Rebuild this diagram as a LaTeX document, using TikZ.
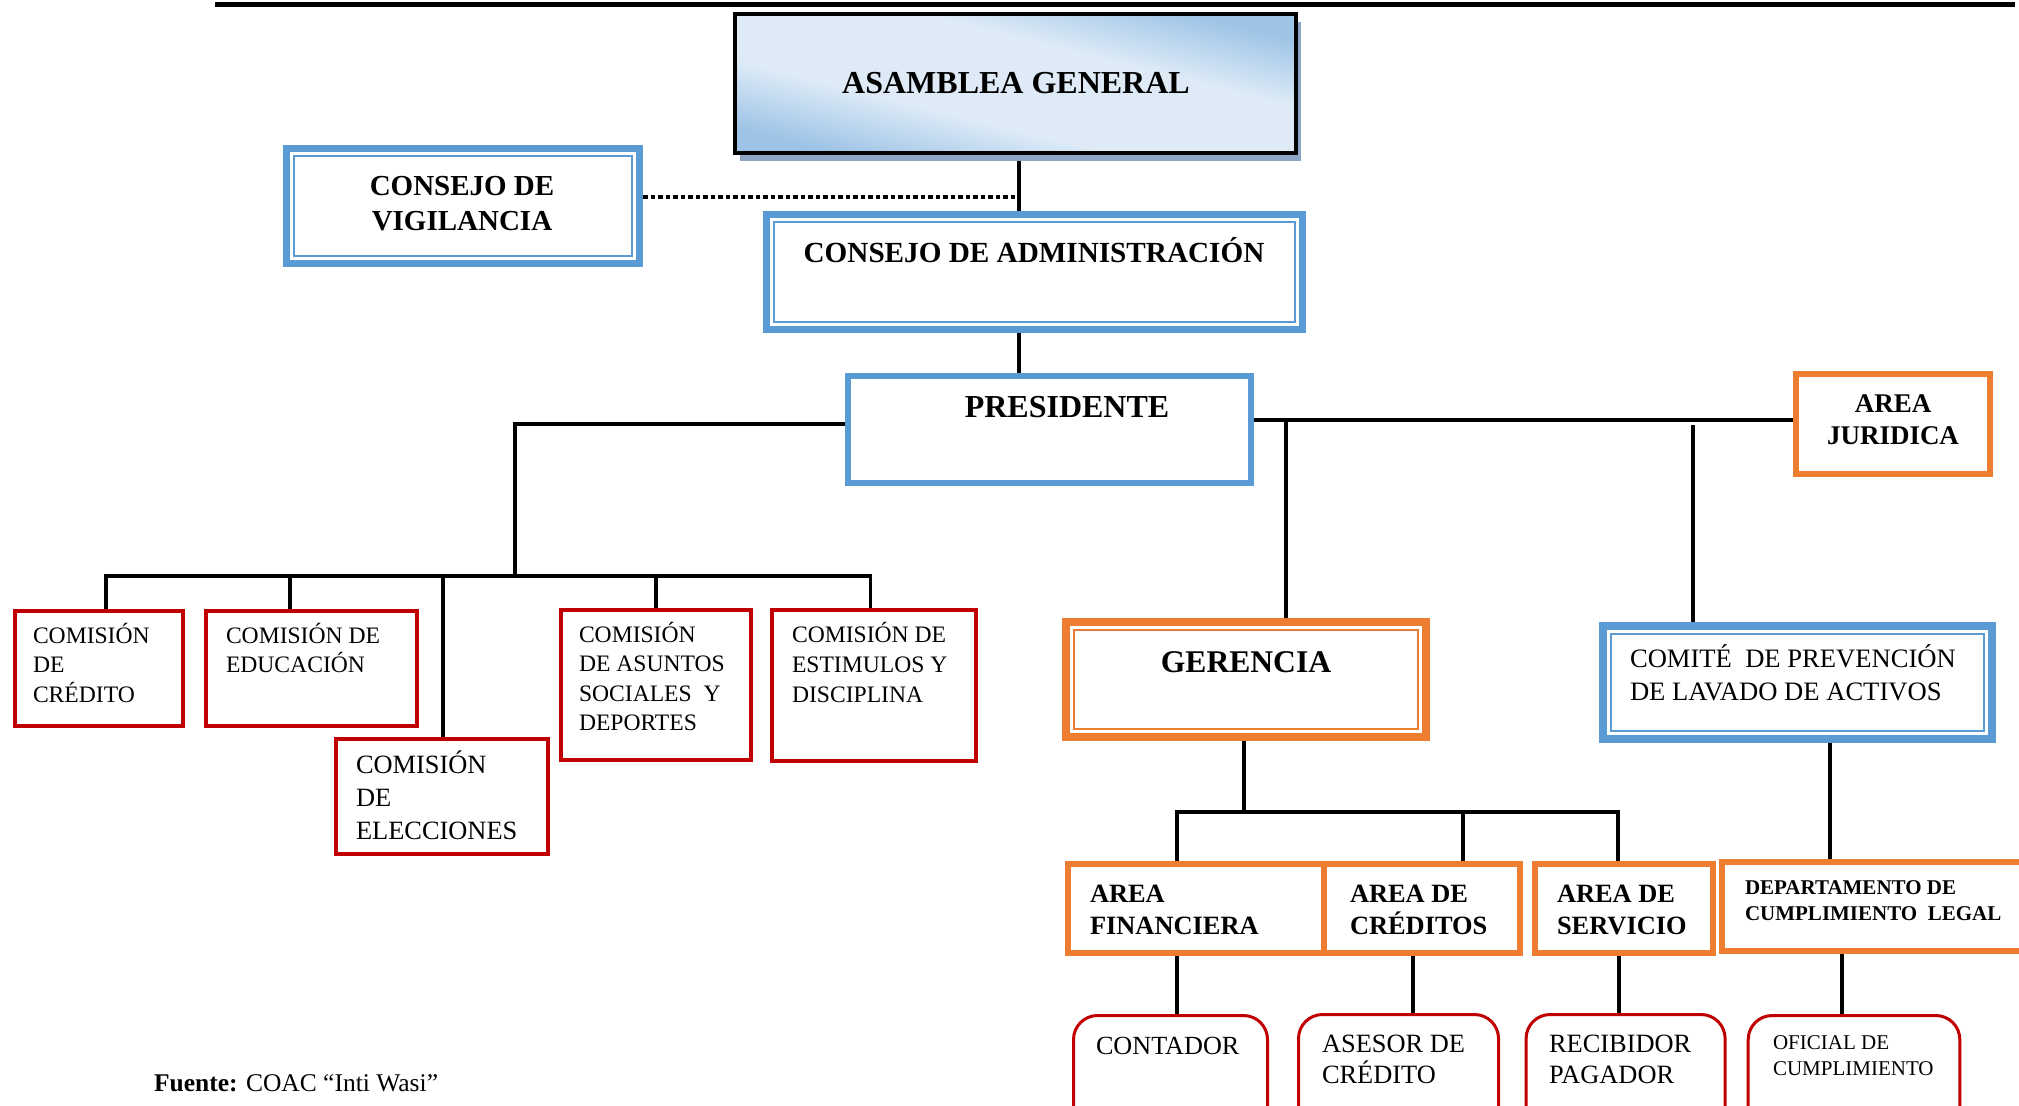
\documentclass[tikz,border=0pt]{standalone}
\usepackage{fontspec}
\setmainfont{Liberation Serif}
\usetikzlibrary{calc,shadows,backgrounds}
\definecolor{bl}{RGB}{91,155,213}
\definecolor{orC}{RGB}{237,125,49}
\definecolor{rd}{RGB}{192,0,0}
\definecolor{gLight}{RGB}{222,235,247}
\definecolor{gDark}{RGB}{157,195,230}
\definecolor{shd}{RGB}{140,166,196}
\pgfdeclareverticalshading{asamShade}{100bp}{color(0bp)=(gDark); color(25bp)=(gDark); color(40bp)=(gLight); color(60bp)=(gLight); color(75bp)=(gDark); color(100bp)=(gDark)}
\begin{document}
\begin{tikzpicture}[x=0.5pt,y=-0.5pt,
  every node/.style={inner sep=0pt,outer sep=0pt},
  box/.style={rectangle},
  blueband/.style={box,draw=bl,line width=3.5pt},
  bluebandw/.style={box,draw=bl,line width=4pt},
  orangeband/.style={box,draw=orC,line width=4pt},
  blueframe/.style={box,draw=bl,line width=3pt},
  orangeframe/.style={box,draw=orC,line width=3pt},
  redframe/.style={box,draw=rd,line width=2pt},
  redround/.style={box,draw=rd,line width=1.5pt,rounded corners=12pt},
  innerline/.style={line width=1pt},
  conn/.style={line width=1.75pt,draw=black},
  dotconn/.style={line width=1.7pt,dash pattern=on 2.25pt off 1.5pt},
  boldtxt/.style n args={2}{font=\fontsize{#1}{#2}\selectfont\bfseries},
  plaintxt/.style n args={2}{font=\fontsize{#1}{#2}\selectfont},
]
\useasboundingbox (0,0) rectangle (2019,1105);
\clip (0,0) rectangle (2019,1105);

% top rule
\coordinate (ruleL) at (215,4);
\coordinate (ruleR) at (2015,4);
\draw[line width=2.5pt] (ruleL) -- (ruleR);

% ASAMBLEA
\node[box,draw=black,line width=2pt,minimum width=280.5pt,minimum height=69.5pt,
  shade,shading=asamShade,shading angle=-14,
  drop shadow={shadow xshift=2.5pt,shadow yshift=-4pt,fill=shd,opacity=1}] (asam) at (1015.5,83.5) {};
\node[boldtxt={16}{19},anchor=base] (tasam) at (1016,93) {ASAMBLEA GENERAL};

% VIGILANCIA
\node[blueband,minimum width=176.5pt,minimum height=57.5pt] (vig) at (463,206) {};
\draw[bl,innerline] ([shift={(3.75pt,-3.75pt)}]vig.north west) rectangle ([shift={(-3.75pt,3.75pt)}]vig.south east);
\node[boldtxt={14.5}{17.5},anchor=base,align=center] (tvig) at (462,230) {CONSEJO DE\\VIGILANCIA};

% ADMINISTRACION
\node[blueband,minimum width=268pt,minimum height=57.5pt] (admin) at (1034.5,272) {};
\draw[bl,innerline] ([shift={(3.75pt,-3.75pt)}]admin.north west) rectangle ([shift={(-3.75pt,3.75pt)}]admin.south east);
\node[boldtxt={14.6}{17.5},anchor=base] (tadmin) at (1034,262) {CONSEJO DE ADMINISTRACIÓN};

% PRESIDENTE
\node[blueframe,minimum width=201.5pt,minimum height=53.5pt] (pres) at (1049.5,429.5) {};
\node[boldtxt={16}{19},anchor=base] (tpres) at (1067,417) {PRESIDENTE};

% AREA JURIDICA
\node[orangeframe,minimum width=96.75pt,minimum height=49.75pt] (jur) at (1893,424) {};
\node[boldtxt={13.5}{16},anchor=base,align=center] (tjur) at (1893,444) {AREA\\JURIDICA};

% GERENCIA
\node[orangeband,minimum width=180pt,minimum height=57.5pt] (ger) at (1246,679.5) {};
\draw[orC,innerline] ([shift={(4pt,-4pt)}]ger.north west) rectangle ([shift={(-4pt,4pt)}]ger.south east);
\node[boldtxt={15.8}{19},anchor=base] (tger) at (1246,672) {GERENCIA};

% COMITE
\node[bluebandw,minimum width=194.5pt,minimum height=56.5pt] (com) at (1797.5,682.5) {};
\draw[bl,innerline] ([shift={(4pt,-4pt)}]com.north west) rectangle ([shift={(-4pt,4pt)}]com.south east);
\node[plaintxt={13.3}{16.5},anchor=base west,align=left] (tcom) at (1630,700) {COMITÉ\ \ DE PREVENCIÓN\\DE LAVADO DE ACTIVOS};

% COMISIONES
\node[redframe,minimum width=84pt,minimum height=57.5pt] (cred) at (99,668.5) {};
\node[plaintxt={11.8}{14.75},anchor=base west,align=left] (tcred) at (33,702) {COMISIÓN\\DE\\CRÉDITO};
\node[redframe,minimum width=105.5pt,minimum height=57.5pt] (edu) at (311.5,668.5) {};
\node[plaintxt={11.8}{14.75},anchor=base west,align=left] (tedu) at (226,672.5) {COMISIÓN DE\\EDUCACIÓN};
\node[redframe,minimum width=106pt,minimum height=57.5pt] (elec) at (442,796.5) {};
\node[plaintxt={13.2}{16.5},anchor=base west,align=left] (telec) at (356,839) {COMISIÓN\\DE\\ELECCIONES};
\node[redframe,minimum width=94.75pt,minimum height=75pt] (asu) at (655.75,685) {};
\node[plaintxt={11.8}{14.75},anchor=base west,align=left] (tasu) at (579,730.5) {COMISIÓN\\DE ASUNTOS\\SOCIALES\ \ Y\\DEPORTES};
\node[redframe,minimum width=102pt,minimum height=75.5pt] (est) at (874,685.5) {};
\node[plaintxt={11.8}{15},anchor=base west,align=left] (test) at (792,702) {COMISIÓN DE\\ESTIMULOS Y\\DISCIPLINA};

% AREAS
\node[orangeframe,minimum width=128pt,minimum height=44.5pt] (fin) at (1196,908.5) {};
\node[boldtxt={13.2}{16},anchor=base west,align=left] (tfin) at (1090,934) {AREA\\FINANCIERA};
\node[orangeframe,minimum width=98pt,minimum height=44.5pt] (cre) at (1422,908.5) {};
\node[boldtxt={13.2}{16},anchor=base west,align=left] (tcre) at (1350,934) {AREA DE\\CRÉDITOS};
\node[orangeframe,minimum width=89pt,minimum height=44.5pt] (ser) at (1624,908.5) {};
\node[boldtxt={13.2}{16},anchor=base west,align=left] (tser) at (1557,934) {AREA DE\\SERVICIO};
\node[orangeframe,minimum width=152.5pt,minimum height=44.5pt] (dep) at (1874.5,906.5) {};
\node[boldtxt={10.5}{13},anchor=base west,align=left] (tdep) at (1745,920) {DEPARTAMENTO DE\\CUMPLIMIENTO\ \ LEGAL};

% BOTTOM
\node[redround,minimum width=97pt,minimum height=61.5pt] (cont) at (1170.5,1077) {};
\node[plaintxt={13.1}{16},anchor=base west] (tcont) at (1096,1054) {CONTADOR};
\node[redround,minimum width=100pt,minimum height=61.5pt] (ase) at (1398.5,1076) {};
\node[plaintxt={13.2}{15.5},anchor=base west,align=left] (tase) at (1322,1083) {ASESOR DE\\CRÉDITO};
\node[redround,minimum width=99.5pt,minimum height=61.5pt] (rec) at (1625.6,1076) {};
\node[plaintxt={13.2}{15.5},anchor=base west,align=left] (trec) at (1549,1083) {RECIBIDOR\\PAGADOR};
\node[redround,minimum width=105.8pt,minimum height=61.5pt] (ofi) at (1854,1077) {};
\node[plaintxt={10.5}{13},anchor=base west,align=left] (tofi) at (1773,1075) {OFICIAL DE\\CUMPLIMIENTO};

% source
\node[plaintxt={12.75}{15},anchor=base west] (src) at (154,1091) {\textbf{Fuente:} COAC “Inti Wasi”};

% CONNECTORS
\begin{scope}[on background layer]
\coordinate (trunk) at ([xshift=1.75pt]asam.south);
\draw[conn] (trunk) -- (trunk |- admin.north);
\draw[conn] (trunk |- admin.south) -- (trunk |- pres.north);
\coordinate (vigP) at ([shift={(1.75pt,4.5pt)}]vig.east);
\draw[dotconn] (vigP) -- (vigP -| trunk);

\coordinate (presL) at ([yshift=2.75pt]pres.west);
\coordinate (leftArm) at (515,576);
\draw[conn] (presL) -| (leftArm);
\coordinate (dCred) at ([xshift=3.5pt]cred.north);
\coordinate (dEst) at ([xshift=-1.75pt]est.north);
\draw[conn] (dCred) |- (leftArm) -| (dEst);
\coordinate (dEdu) at ([xshift=-10.75pt]edu.north);
\draw[conn] (dEdu) -- (dEdu |- leftArm);
\coordinate (dElec) at ([xshift=0.5pt]elec.north);
\draw[conn] (dElec) -- (dElec |- leftArm);
\draw[conn] (asu.north) -- (asu.north |- leftArm);

\coordinate (presR) at ([yshift=4.75pt]pres.east);
\draw[conn] (presR) -- (presR -| jur.west);
\coordinate (dGer) at ([xshift=20pt]ger.north);
\draw[conn] (dGer) -- (dGer |- presR);
\coordinate (dCom) at ([xshift=-52.25pt]com.north);
\coordinate (comJoin) at (dCom |- presR);
\draw[conn] (dCom) -- ([yshift=-2.5pt]comJoin);

\coordinate (dGerS) at ([xshift=-1pt]ger.south);
\coordinate (gBus) at (1244,812);
\draw[conn] (dGerS) -- (gBus);
\coordinate (dFin) at ([xshift=-9.5pt]fin.north);
\coordinate (dCre) at ([xshift=20.5pt]cre.north);
\coordinate (dSer) at ([xshift=-3pt]ser.north);
\draw[conn] (dFin) |- (gBus) -| (dSer);
\draw[conn] (dCre) -- (dCre |- gBus);
\coordinate (dComS) at ([xshift=16.25pt]com.south);
\draw[conn] (dComS) -- (dComS |- dep.north);

\coordinate (dCont) at ([xshift=3.25pt]cont.north);
\draw[conn] (dCont) -- (dCont |- fin.south);
\coordinate (dAse) at ([xshift=7.25pt]ase.north);
\draw[conn] (dAse) -- (dAse |- cre.south);
\coordinate (dRec) at ([xshift=-3.3pt]rec.north);
\draw[conn] (dRec) -- (dRec |- ser.south);
\coordinate (dOfi) at ([xshift=-6pt]ofi.north);
\draw[conn] (dOfi) -- (dOfi |- dep.south);
\end{scope}
\end{tikzpicture}
\end{document}
